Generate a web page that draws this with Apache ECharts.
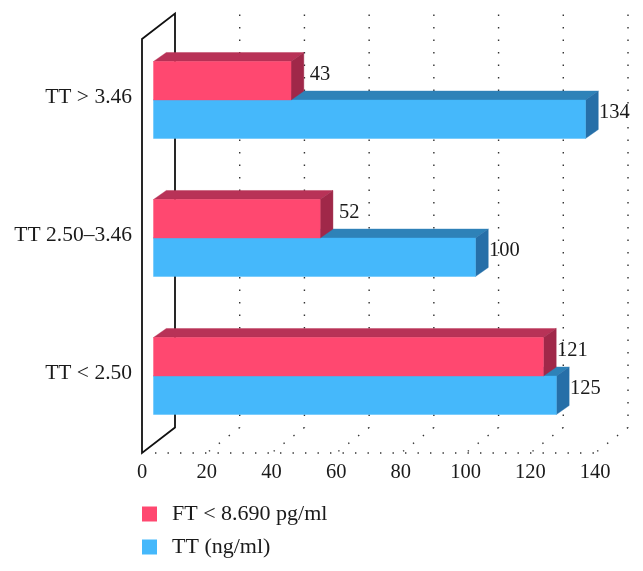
<!DOCTYPE html>
<html>
<head>
<meta charset="utf-8">
<style>html,body{margin:0;padding:0;background:#fff}#c{width:643px;height:571px}</style>
<script src="https://cdn.jsdelivr.net/npm/echarts@6/dist/echarts.min.js"></script>
</head>
<body>
<div id="c"></div>
<script>
const categories = ['TT < 2.50', 'TT 2.50–3.46', 'TT > 3.46'];
const ftValues = [121, 52, 43];
const ttValues = [125, 100, 134];
const xTicks = [0, 20, 40, 60, 80, 100, 120, 140];
const seriesNames = ['FT < 8.690 pg/ml', 'TT (ng/ml)'];

const FONT = '"Liberation Serif", serif';
const WALL = { dx: 33, dy: -25.5 };
const BAR = { dx: 11.5, dy: -8, depthX: 12.8, depthY: -9, heightRatio: 0.279, endInset: 1.6 };

function poly(points, fill) {
  return { type: 'polygon', shape: { points }, style: { fill, stroke: fill, lineWidth: 0.4 } };
}

function barItem(palette, above) {
  return function (params, api) {
    const v = api.value(0), i = api.value(1);
    const end = api.coord([v, i]);
    const start = api.coord([0, i]);
    const h = api.size([0, 1])[1] * BAR.heightRatio;
    const x0 = start[0] + BAR.dx, x1 = end[0] + BAR.dx - BAR.endInset;
    const yMid = end[1] + BAR.dy;
    const yT = above ? yMid - h : yMid;
    const yB = above ? yMid : yMid + h;
    const dx = BAR.depthX, dy = BAR.depthY;
    return {
      type: 'group',
      children: [
        poly([[x0, yT], [x0 + dx, yT + dy], [x1 + dx, yT + dy], [x1, yT]], palette.top),
        poly([[x1, yT], [x1 + dx, yT + dy], [x1 + dx, yB + dy], [x1, yB]], palette.side),
        poly([[x0, yT], [x1, yT], [x1, yB], [x0, yB]], palette.front),
        {
          type: 'text',
          z2: 20,
          style: {
            x: x1 + 29, y: (yT + yB) / 2 - 6.5, text: String(v),
            fill: '#1a1a1a', font: '20.5px ' + FONT, align: 'center', verticalAlign: 'middle'
          }
        }
      ]
    };
  };
}

function frameItem(params, api) {
  const v = api.value(0);
  const cs = params.coordSys;
  const x = api.coord([v, 0])[0];
  const top = cs.y, bot = cs.y + cs.height;
  const dotted = { stroke: '#333', lineWidth: 1.4, lineDash: [1.4, 11.1], fill: null };
  const solid = { stroke: '#111', lineWidth: 1.8, fill: null };
  if (v === 0) {
    return {
      type: 'group',
      children: [
        { type: 'polygon', shape: { points: [[x, top], [x + WALL.dx, top + WALL.dy], [x + WALL.dx, bot + WALL.dy], [x, bot]] }, style: solid },
        { type: 'line', shape: { x1: x + 13, y1: bot, x2: cs.x + cs.width, y2: bot }, style: dotted }
      ]
    };
  }
  return {
    type: 'group',
    children: [
      { type: 'line', shape: { x1: x + WALL.dx, y1: top + WALL.dy + 1, x2: x + WALL.dx, y2: bot + WALL.dy }, style: dotted },
      { type: 'line', shape: { x1: x + WALL.dx, y1: bot + WALL.dy, x2: x, y2: bot }, style: dotted }
    ]
  };
}

const chart = echarts.init(document.getElementById('c'), null, { renderer: 'canvas' });
chart.setOption({
  animation: false,
  backgroundColor: '#fff',
  textStyle: { fontFamily: FONT },
  grid: { left: 142, top: 39, width: 453, height: 414, containLabel: false },
  xAxis: {
    type: 'value', min: 0, max: 140, interval: 20,
    axisLine: { show: false }, axisTick: { show: false }, splitLine: { show: false },
    axisLabel: { color: '#1a1a1a', fontSize: 20.5, fontFamily: FONT, margin: 9, hideOverlap: false }
  },
  yAxis: {
    type: 'category', data: categories,
    axisLine: { show: false }, axisTick: { show: false }, splitLine: { show: false },
    axisLabel: { color: '#1a1a1a', fontSize: 21.5, fontFamily: FONT, margin: 10, verticalAlign: 'bottom' }
  },
  legend: {
    data: seriesNames,
    orient: 'vertical', left: 142, top: 503, padding: 0,
    icon: 'rect',
    itemWidth: 15, itemHeight: 15, itemGap: 11, selectedMode: false,
    textStyle: { color: '#1a1a1a', fontSize: 22, fontFamily: FONT, padding: [0, 0, 0, 10] }
  },
  series: [
    {
      type: 'custom', name: 'frame', silent: true, z: 1,
      coordinateSystem: 'cartesian2d',
      data: xTicks.map(t => [t, 0]),
      renderItem: frameItem
    },
    {
      type: 'custom', name: seriesNames[1], silent: true, z: 2,
      coordinateSystem: 'cartesian2d',
      itemStyle: { color: '#45B8FB' },
      data: ttValues.map((v, i) => [v, i]),
      renderItem: barItem({ front: '#45B8FB', top: '#2E82B8', side: '#266FA8' }, false)
    },
    {
      type: 'custom', name: seriesNames[0], silent: true, z: 3,
      coordinateSystem: 'cartesian2d',
      itemStyle: { color: '#FF4870' },
      data: ftValues.map((v, i) => [v, i]),
      renderItem: barItem({ front: '#FF4870', top: '#B83257', side: '#A02849' }, true)
    }
  ]
});
</script>
</body>
</html>
